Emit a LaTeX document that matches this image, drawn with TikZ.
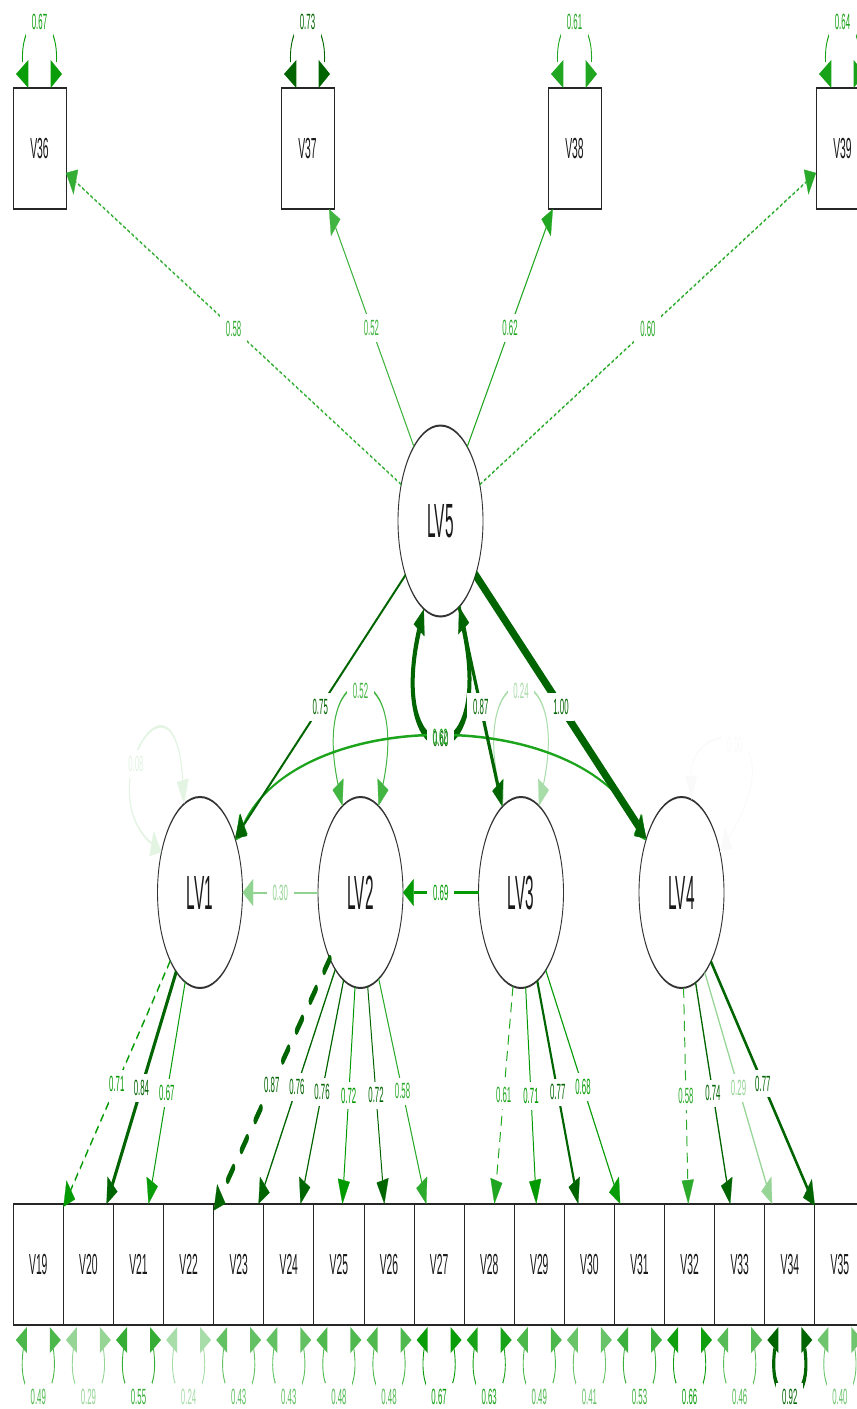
\documentclass[tikz,border=0pt]{standalone}
\usepackage{fontspec}
\usepackage{graphicx}
\setmainfont{Liberation Sans}
\usetikzlibrary{arrows.meta}

\definecolor{g}{RGB}{0,153,0}
\definecolor{dg}{RGB}{0,100,0}

% condensed text for weights and variable names
\newcommand\lbl[1]{\scalebox{0.8}[1]{\fontsize{22}{22}\selectfont #1}}
\newcommand\mvname[1]{\scalebox{0.8}[1]{\fontsize{29}{29}\selectfont #1}}
\newcommand\lvname[1]{\scalebox{0.72}[1]{\fontsize{48}{48}\selectfont #1}}

% residual variance loop above a box: node, label, colour, line width
\newcommand\toploop[4]{%
  \fill[color=#3] ([shift={(-11.2,0)}]#1.north) -- ([shift={(-11.2,-28)}]#1.north) -- ([shift={(-23.5,-14)}]#1.north) -- cycle;
  \fill[color=#3] ([shift={(11.2,0)}]#1.north) -- ([shift={(11.2,-28)}]#1.north) -- ([shift={(22.5,-14)}]#1.north) -- cycle;
  \draw[color=#3, line width=#4] ([shift={(-17,-26)}]#1.north) .. controls ([shift={(-19,-79)}]#1.north) and ([shift={(19,-79)}]#1.north) .. ([shift={(17,-26)}]#1.north) node[midway,lab]{\lbl{#2}};}

% residual variance loop below a box: node, label, colour, line width
\newcommand\botloop[4]{%
  \fill[color=#3] ([shift={(-11.5,2)}]#1.south) -- ([shift={(-11.5,28)}]#1.south) -- ([shift={(-22.5,15)}]#1.south) -- cycle;
  \fill[color=#3] ([shift={(11.5,2)}]#1.south) -- ([shift={(11.5,28)}]#1.south) -- ([shift={(22.5,15)}]#1.south) -- cycle;
  \draw[color=#3, line width=#4] ([shift={(-15,24)}]#1.south) .. controls ([shift={(-24,88)}]#1.south) and ([shift={(24,88)}]#1.south) .. ([shift={(15,24)}]#1.south) node[midway,lab]{\lbl{#2}};}

\tikzset{
  lvnode/.style={circle, draw=black!80, line width=2pt, fill=white, minimum size=191pt, inner sep=0pt, outer sep=0pt, text=black!90},
  mvnode/.style={rectangle, draw=black!85, line width=2pt, fill=white, minimum height=121pt, inner sep=0pt, outer sep=0pt, text=black!90},
  lab/.style={fill=white, inner xsep=13pt, inner ysep=6pt, outer sep=0pt},
  tip/.style={-{Triangle[length=24pt,width=27pt,line width=0.5pt]}},
  tips/.style={{Triangle[length=24pt,width=27pt,line width=0.5pt]}-{Triangle[length=24pt,width=27pt,line width=0.5pt]}},
  dsh/.style={dash pattern=on 10pt off 6.5pt},
  dshfine/.style={dash pattern=on 6pt off 4pt},
  dshthick/.style={dash pattern=on 18pt off 25pt, line cap=round}
}

\begin{document}
\begin{tikzpicture}[x=1pt,y=-1pt]
\useasboundingbox (0,0) rectangle (857,1409);
\clip (0,0) rectangle (857,1409);
\begin{scope}[transform canvas={xscale=0.445}, x=2.247191pt]

% latent variables
\node[lvnode] (lv5) at (440.5,521) {\lvname{LV5}};
\node[lvnode] (lv1) at (200,892.5) {\lvname{LV1}};
\node[lvnode] (lv2) at (360.5,892.5) {\lvname{LV2}};
\node[lvnode] (lv3) at (521,892.5) {\lvname{LV3}};
\node[lvnode] (lv4) at (681.5,892.5) {\lvname{LV4}};

% indicators of LV5
\node[mvnode, minimum width=119.1pt] (v36) at (39.5,148.5) {\mvname{V36}};
\node[mvnode, minimum width=119.1pt] (v37) at (307.5,148.5) {\mvname{V37}};
\node[mvnode, minimum width=119.1pt] (v38) at (574.5,148.5) {\mvname{V38}};
\node[mvnode, minimum width=119.1pt] (v39) at (842.5,148.5) {\mvname{V39}};

% indicators of LV1 to LV4
\foreach \i in {19,...,35} {
  \pgfmathsetmacro\xx{38.3+50.1*(\i-19)}
  \node[mvnode, minimum width=112.6pt] (v\i) at (\xx,1264.5) {\mvname{V\i}};
}

% residual variances of the indicators
\toploop{v36}{0.67}{g!96}{2pt}
\toploop{v37}{0.73}{dg}{2pt}
\toploop{v38}{0.61}{g!87}{2pt}
\toploop{v39}{0.64}{g!91}{2pt}
\foreach \rnm/\rlb/\rcl/\rlw in {v19/0.49/g!70/2pt, v20/0.29/g!41/2pt, v21/0.55/g!79/2pt,
  v22/0.24/g!34/2pt, v23/0.43/g!61/2pt, v24/0.43/g!61/2pt, v25/0.48/g!69/2pt,
  v26/0.48/g!69/2pt, v27/0.67/g!96/2pt, v28/0.63/g!90/2pt, v29/0.49/g!70/2pt,
  v30/0.41/g!59/2pt, v31/0.53/g!76/2pt, v32/0.66/g!94/2pt, v33/0.46/g!66/2pt,
  v34/0.92/dg/7pt, v35/0.40/g!57/2pt} {
  \botloop{\rnm}{\rlb}{\rcl}{\rlw}
}

% residual variances of the latent variables
\draw[tips, color=g!11, line width=2.5pt] (lv1.155) .. controls ([shift={(-110,-102.5)}]lv1.center) and ([shift={(-25,-242.5)}]lv1.center) .. (lv1.112) node[pos=0.4,lab]{\lbl{0.08}};
\draw[tips, color=g!74, line width=2.2pt] (lv2.115) .. controls ([shift={(-50,-240)}]lv2.center) and ([shift={(50,-240)}]lv2.center) .. (lv2.65) node[midway,lab]{\lbl{0.52}};
\draw[tips, color=g!34, line width=2.2pt] (lv3.115) .. controls ([shift={(-50,-240)}]lv3.center) and ([shift={(50,-240)}]lv3.center) .. (lv3.65) node[midway,lab]{\lbl{0.24}};
\draw[tips, color=black!2, line width=2.2pt] (lv4.76) .. controls ([shift={(8,-177)}]lv4.center) and ([shift={(118,-172)}]lv4.center) .. (lv4.25) node[midway,lab]{\lbl{0.00}};
\draw[tips, color=dg, line width=9pt] (lv5.-113) .. controls ([shift={(-55,259)}]lv5.center) and ([shift={(55,259)}]lv5.center) .. (lv5.-64) node[midway,lab] (l60) {\lbl{\phantom{0.60}}};

% covariance LV1 - LV4
\draw[tips, color=g!89, line width=2.5pt] (lv1.33) .. controls ([shift={(100,-187.5)}]lv1.center) and ([shift={(-101.5,-187.5)}]lv4.center) .. (lv4.147) node[midway,lab] (l62) {\lbl{\phantom{0.62}}};
\node[text=dg, inner sep=0pt] at ([yshift=-2]l60) {\lbl{0.60}};
\node[text=g!89, inner sep=0pt] at ([yshift=2]l62) {\lbl{0.62}};

% loadings on LV5
\draw[tip, color=g!80, line width=1.8pt, dshfine] (lv5) -- (v36) node[midway,lab]{\lbl{0.58}};
\draw[tip, color=g!74, line width=2pt] (lv5) -- (v37) node[midway,lab]{\lbl{0.52}};
\draw[tip, color=g!87, line width=2pt] (lv5) -- (v38) node[midway,lab]{\lbl{0.62}};
\draw[tip, color=g!84, line width=1.8pt, dshfine] (lv5) -- (v39) node[midway,lab]{\lbl{0.60}};

% structural paths
\draw[tip, color=dg, line width=3pt] (lv5) -- (lv1) node[midway,lab]{\lbl{0.75}};
\draw[tip, color=dg, line width=6.5pt] (lv5) -- (lv3) node[midway,lab]{\lbl{0.87}};
\draw[tip, color=dg, line width=11pt] (lv5) -- (lv4) node[midway,lab]{\lbl{1.00}};
\draw[tip, color=g!43, line width=2pt] (lv2) -- (lv1) node[midway,lab]{\lbl{0.30}};
\draw[tip, color=g!99, line width=2.5pt] (lv3) -- (lv2) node[midway,lab]{\lbl{0.69}};

% loadings on LV1 to LV4
\draw[tip, color=g!99, line width=2.5pt, dsh] (lv1) -- (v19) node[midway,lab]{\lbl{0.71}};
\draw[tip, color=dg, line width=6pt] (lv1) -- (v20) node[midway,lab]{\lbl{0.84}};
\draw[tip, color=g!96, line width=2.2pt] (lv1) -- (v21) node[midway,lab]{\lbl{0.67}};
\draw[tip, color=dg, line width=8pt, dshthick] (lv2) -- (v22) node[midway,lab]{\lbl{0.87}};
\draw[tip, color=dg, line width=2.5pt] (lv2) -- (v23) node[midway,lab]{\lbl{0.76}};
\draw[tip, color=dg, line width=2.5pt] (lv2) -- (v24) node[midway,lab]{\lbl{0.76}};
\draw[tip, color=g, line width=2.2pt] (lv2) -- (v25) node[midway,lab]{\lbl{0.72}};
\draw[tip, color=dg, line width=2.2pt] (lv2) -- (v26) node[midway,lab]{\lbl{0.72}};
\draw[tip, color=g!83, line width=2.2pt] (lv2) -- (v27) node[midway,lab]{\lbl{0.58}};
\draw[tip, color=g!87, line width=2.2pt, dsh] (lv3) -- (v28) node[midway,lab]{\lbl{0.61}};
\draw[tip, color=g, line width=2.2pt] (lv3) -- (v29) node[midway,lab]{\lbl{0.71}};
\draw[tip, color=dg, line width=4.5pt] (lv3) -- (v30) node[midway,lab]{\lbl{0.77}};
\draw[tip, color=g!97, line width=2.2pt] (lv3) -- (v31) node[midway,lab]{\lbl{0.68}};
\draw[tip, color=g!83, line width=2.2pt, dsh] (lv4) -- (v32) node[midway,lab]{\lbl{0.58}};
\draw[tip, color=dg, line width=2.8pt] (lv4) -- (v33) node[midway,lab]{\lbl{0.74}};
\draw[tip, color=g!41, line width=2.5pt] (lv4) -- (v34) node[midway,lab]{\lbl{0.29}};
\draw[tip, color=dg, line width=4.5pt] (lv4) -- (v35) node[midway,lab]{\lbl{0.77}};

\end{scope}
\end{tikzpicture}
\end{document}
